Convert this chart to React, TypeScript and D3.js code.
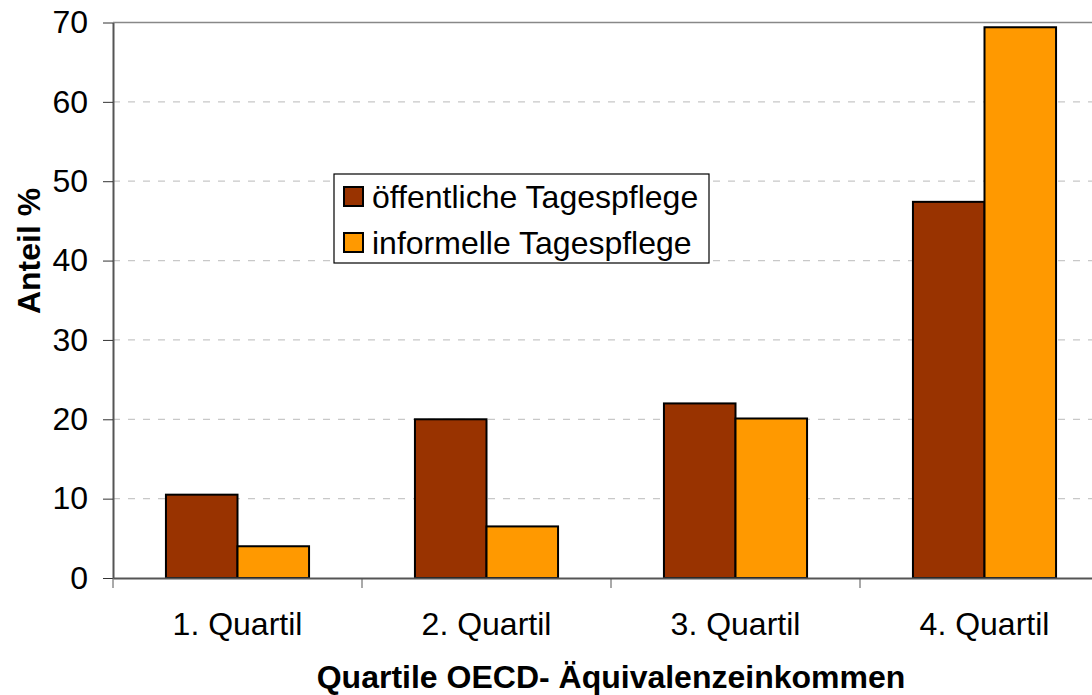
import React, { useEffect, useRef } from 'react';
import * as d3 from 'd3';

// chart data
const categories = ['1. Quartil', '2. Quartil', '3. Quartil', '4. Quartil'];
const seriesNames = ['öffentliche Tagespflege', 'informelle Tagespflege'];
const oeffentlich = [10.5, 20.0, 22.0, 47.4];
const informell = [4.0, 6.5, 20.1, 69.4];
const yTicks = [0, 10, 20, 30, 40, 50, 60, 70];
const colors = ['#993300', '#FF9900'];

const W = 1092;
const H = 695;
const FONT = 'Arial, "Liberation Sans", Helvetica, sans-serif';

export default function App() {
  const ref = useRef<SVGSVGElement>(null);

  useEffect(() => {
    const svg = d3.select(ref.current);
    svg.selectAll('*').remove();

    const margin = { top: 22.5, right: -17, bottom: 117, left: 113 };
    const width = W - margin.left - margin.right;
    const height = H - margin.top - margin.bottom;

    const g = svg.append('g')
      .attr('transform', 'translate(' + margin.left + ',' + margin.top + ')');

    const x0 = d3.scaleBand<string>().domain(categories).range([0, width]);
    const x1 = d3.scaleBand<string>().domain(seriesNames)
      .range([0, x0.bandwidth()]).paddingInner(0).paddingOuter(0.74);
    const y = d3.scaleLinear().domain([0, 70]).range([height, 0]);

    // grid lines
    g.append('g').selectAll('line')
      .data(yTicks.filter(t => t > 0 && t < 70))
      .enter().append('line')
      .attr('x1', 0).attr('x2', width)
      .attr('y1', d => y(d)).attr('y2', d => y(d))
      .attr('stroke', '#c8c8c8')
      .attr('stroke-width', 1.2)
      .attr('stroke-dasharray', '7 8');

    // top border
    g.append('line')
      .attr('x1', 0).attr('x2', width)
      .attr('y1', 0).attr('y2', 0)
      .attr('stroke', '#888').attr('stroke-width', 1.5);

    // bars
    const values = [oeffentlich, informell];
    categories.forEach((c, i) => {
      seriesNames.forEach((s, j) => {
        g.append('rect')
          .attr('x', (x0(c) as number) + (x1(s) as number))
          .attr('y', y(values[j][i]))
          .attr('width', x1.bandwidth())
          .attr('height', height - y(values[j][i]))
          .attr('fill', colors[j])
          .attr('stroke', '#000')
          .attr('stroke-width', 2);
      });
    });

    // y axis
    const yAxis = g.append('g')
      .call(d3.axisLeft(y).tickValues(yTicks).tickSize(10).tickPadding(15).tickSizeOuter(0));
    yAxis.select('.domain').attr('stroke', '#555').attr('stroke-width', 2);
    yAxis.selectAll('.tick line').attr('stroke', '#333').attr('stroke-width', 1);
    yAxis.selectAll('.tick text')
      .attr('font-family', FONT).attr('font-size', 32).attr('fill', '#000');

    // x axis
    const xAxis = g.append('g')
      .attr('transform', 'translate(0,' + height + ')')
      .call(d3.axisBottom(x0).tickSize(0).tickPadding(57));
    xAxis.select('.domain').attr('stroke', '#555').attr('stroke-width', 2);
    xAxis.selectAll('.tick text')
      .attr('font-family', FONT).attr('font-size', 32).attr('fill', '#000')
      .attr('dy', 0);
    // category separators
    g.append('g').selectAll('line')
      .data(categories)
      .enter().append('line')
      .attr('x1', d => x0(d) as number).attr('x2', d => x0(d) as number)
      .attr('y1', height).attr('y2', height + 10)
      .attr('stroke', '#555').attr('stroke-width', 1);

    // axis titles
    svg.append('text')
      .attr('transform', 'translate(40,' + 251 + ') rotate(-90)')
      .attr('text-anchor', 'middle')
      .attr('font-family', FONT).attr('font-size', 32).attr('font-weight', 'bold')
      .text('Anteil %');

    svg.append('text')
      .attr('x', 611).attr('y', 688)
      .attr('text-anchor', 'middle')
      .attr('font-family', FONT).attr('font-size', 32).attr('font-weight', 'bold')
      .text('Quartile OECD- Äquivalenzeinkommen');

    // legend
    const lg = svg.append('g').attr('transform', 'translate(334,174)');
    lg.append('rect')
      .attr('width', 375).attr('height', 89)
      .attr('fill', '#fff').attr('stroke', '#000').attr('stroke-width', 1.2);
    seriesNames.forEach((s, j) => {
      lg.append('rect')
        .attr('x', 10).attr('y', 13 + j * 46)
        .attr('width', 19).attr('height', 19)
        .attr('fill', colors[j]).attr('stroke', '#000').attr('stroke-width', 2);
      lg.append('text')
        .attr('x', 38).attr('y', 34 + j * 46)
        .attr('font-family', FONT).attr('font-size', 32)
        .text(s);
    });
  }, []);

  return (
    <div>
      <svg ref={ref} width={W} height={H}
        style={{ position: 'absolute', left: 0, top: 0, background: '#fff' }} />
    </div>
  );
}
